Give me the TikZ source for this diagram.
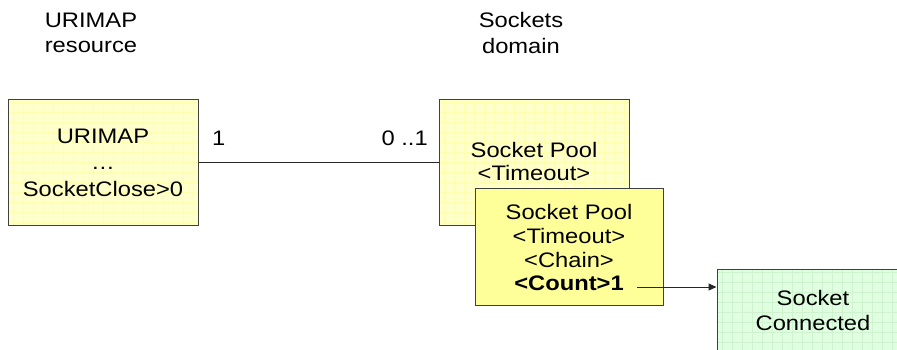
\documentclass[tikz,border=0pt]{standalone}
\usepackage{fontspec}
\setmainfont{Liberation Sans}[FakeStretch=1.13]
\usetikzlibrary{arrows.meta}

\definecolor{paleyellow}{HTML}{FFFFCC}
\definecolor{paleyellowgrid}{HTML}{FFFFB0}
\definecolor{strongyellow}{HTML}{FFFF99}
\definecolor{palegreen}{HTML}{E0FFE0}
\definecolor{palegreengrid}{HTML}{CFF3CF}
\definecolor{boxborder}{HTML}{404040}

\tikzset{
  umlbox/.style={draw=boxborder, line width=1pt, rectangle,
    minimum width=190pt, minimum height=126pt, inner sep=0pt},
  gridfill/.style 2 args={fill=#1, path picture={
      \draw[#2, line width=0.7pt]
        ([xshift=-10pt,yshift=-10pt]path picture bounding box.south west)
        grid[step=10pt]
        ([xshift=10pt,yshift=10pt]path picture bounding box.north east);}},
  lbl/.style={font=\fontsize{21}{25}\selectfont, inner sep=0pt, anchor=base, text=black},
  link/.style={draw=black!85, line width=1pt},
}

\begin{document}
\begin{tikzpicture}[x=1pt, y=-1pt]
  \useasboundingbox (0,0) rectangle (897,349);

  % column headings
  \node[lbl] (hdrA1) at (91,27) {URIMAP};
  \node[lbl] (hdrA2) at (91,52) {resource};
  \node[lbl] (hdrB1) at (521,27) {Sockets};
  \node[lbl] (hdrB2) at (521,53) {domain};

  % URIMAP definition
  \node[umlbox, gridfill={paleyellow}{paleyellowgrid}] (urimap) at (103,162) {};
  \node[lbl] (urimapA) at (103,143) {URIMAP};
  \node[lbl] (urimapB) at (103,169) {…};
  \node[lbl] (urimapC) at (103,196) {SocketClose>0};

  % socket pool (idle)
  \node[umlbox, gridfill={paleyellow}{paleyellowgrid}] (pool) at (534,162) {};
  \node[lbl] (poolA) at (534,157) {Socket Pool};
  \node[lbl] (poolB) at (534,180) {<Timeout>};

  % association between URIMAP and pool
  \draw[link] (urimap.east) -- (pool.west);
  \node[lbl, anchor=base west] (multA) at (212,145) {1};
  \node[lbl, anchor=base east] (multB) at (428,145) {0 ..1};

  % socket pool (active)
  \node[umlbox, fill=strongyellow, minimum width=188pt, minimum height=117pt] (active) at (569,246.5) {};
  \node[lbl] (activeA) at (569,219) {Socket Pool};
  \node[lbl] (activeB) at (569,243) {<Timeout>};
  \node[lbl] (activeC) at (569,267) {<Chain>};
  \node[lbl, font=\fontsize{21}{25}\selectfont\bfseries] (activeD) at (569,290) {<Count>1};

  % connected socket
  \node[umlbox, gridfill={palegreen}{palegreengrid}] (conn) at (812,332) {};
  \node[lbl] (connA) at (813,305) {Socket};
  \node[lbl] (connB) at (813,330) {Connected};

  \coordinate (tail) at (637,287);
  \draw[link, -{Triangle[length=8pt,width=7pt]}] (tail) -- (conn.west |- tail);
\end{tikzpicture}
\end{document}
